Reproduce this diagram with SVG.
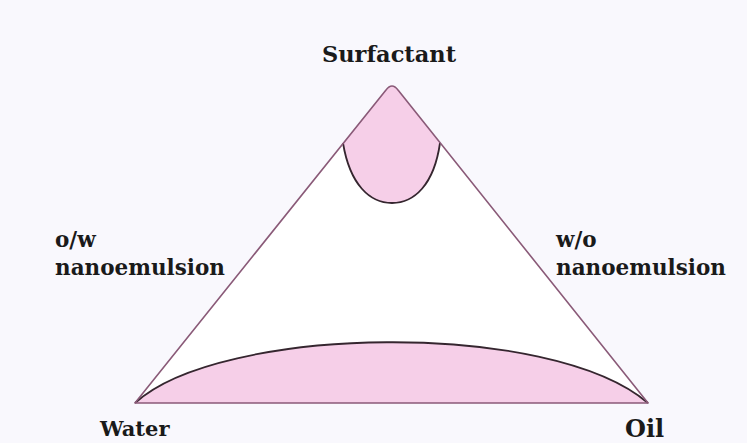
<svg xmlns="http://www.w3.org/2000/svg" width="747" height="443" viewBox="0 0 747 443">
<style>
.lbl{font-family:"DejaVu Serif","Liberation Serif",serif;font-weight:bold;font-size:21.5px;fill:#1a1a1a}
.edge{fill:none;stroke:#8a5a78;stroke-width:1.6;stroke-linejoin:round}
.curve{fill:none;stroke:#35262f;stroke-width:1.8}
.region{fill:#f6cfe8;stroke:none}
</style>
<rect width="747" height="443" fill="#f9f8fd"/>
<g id="triangle">
<path d="M135,403 L386,90 Q392,82 398,90 L648,403 Z" fill="#ffffff" stroke="none"/>
</g>
<g id="top-region">
<path class="region" d="M343,143 L386,90 Q392,82 398,90 L440,143 C434,185 414,203 392,203 C370,203 350,185 343,143 Z"/>
<path class="curve" d="M343,143 C350,185 370,203 392,203 C414,203 434,185 440,143"/>
</g>
<g id="bottom-region">
<path class="region" d="M135,403 C220,325 550,319 648,403 Z"/>
<path class="curve" d="M135,403 C220,325 550,319 648,403"/>
</g>
<g id="connectors">
<path class="edge" d="M135,403 L386,90 Q392,82 398,90 L648,403 Z"/>
</g>
<g id="labels">
<text class="lbl" x="389" y="62" text-anchor="middle" style="font-size:22.5px">Surfactant</text>
<text class="lbl" x="100" y="436" style="font-size:21px">Water</text>
<text class="lbl" x="625" y="437" style="font-size:24px">Oil</text>
<text class="lbl" x="55" y="247">o/w</text>
<text class="lbl" x="55" y="275">nanoemulsion</text>
<text class="lbl" x="556" y="247">w/o</text>
<text class="lbl" x="556" y="275">nanoemulsion</text>
</g>
</svg>
